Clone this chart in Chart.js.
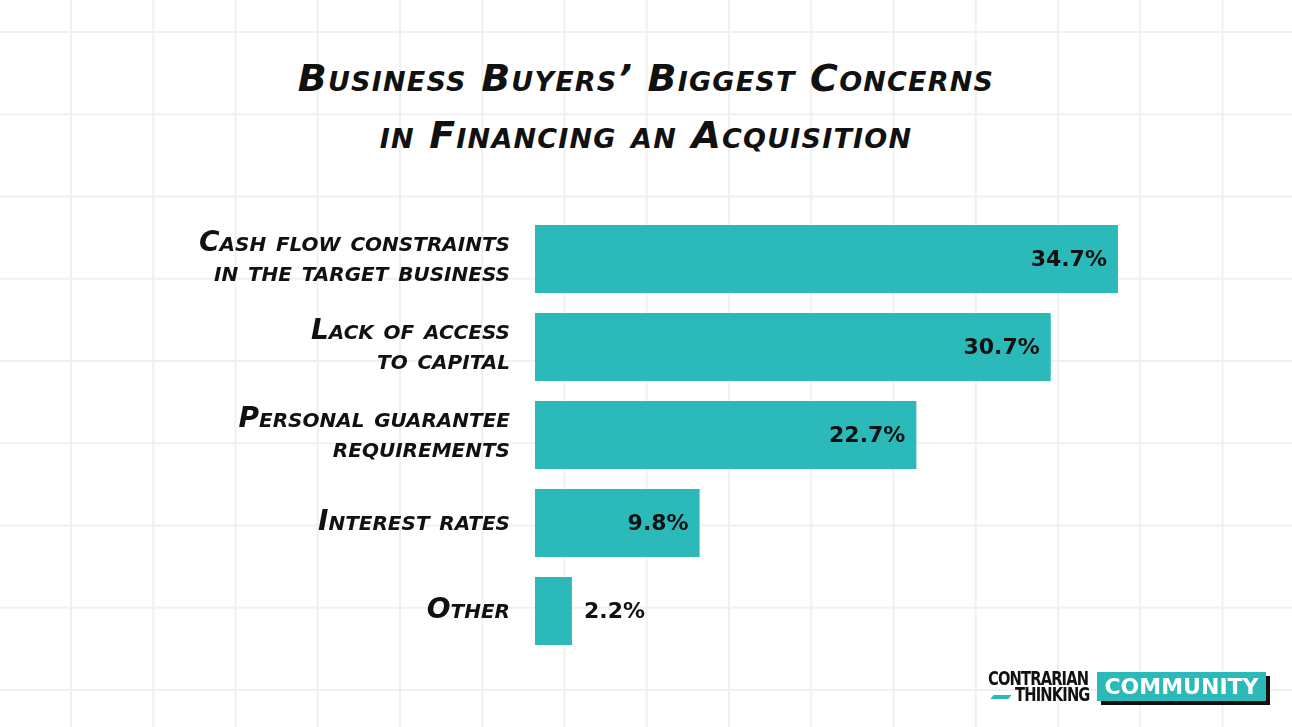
<!DOCTYPE html>
<html>
<head>
<meta charset="utf-8">
<script src="https://cdn.jsdelivr.net/npm/chart.js@4.4.1/dist/chart.umd.min.js"></script>
<style>
  html,body{margin:0;padding:0;}
  body{width:1292px;height:727px;overflow:hidden;position:relative;background-color:#fff;
    background-image:linear-gradient(to right,#f0f0f0 0,#f0f0f0 2px,transparent 2px),
                     linear-gradient(to bottom,#f0f0f0 0,#f0f0f0 2px,transparent 2px);
    background-size:82.25px 82.25px;background-position:70px 31px;}
  #title{position:absolute;left:0;top:50px;width:1292px;text-align:center;
    font-family:"DejaVu Sans",sans-serif;font-style:italic;font-weight:800;font-variant:small-caps;
    font-size:38px;line-height:57px;color:#111;letter-spacing:1.2px;}
  #wrap{position:absolute;left:0;top:0;width:1292px;height:727px;}
  .logo{position:absolute;left:988px;top:669px;font-family:"DejaVu Sans Condensed","DejaVu Sans",sans-serif;font-weight:700;}
  .ct{position:absolute;left:0;top:0;width:102px;height:34px;color:#111;}
  .ct .l1{position:absolute;left:0;top:0;font-size:19px;line-height:18px;letter-spacing:-1px;transform:scaleX(0.86);transform-origin:0 0;}
  .ct .l2{position:absolute;right:0;top:16px;font-size:19px;line-height:18px;letter-spacing:-1px;transform:scaleX(0.86);transform-origin:100% 0;}
  .bolt{position:absolute;left:4px;top:26px;width:18px;height:4px;background:#29b9b9;transform:skewX(-40deg);}
  .comm{position:absolute;left:109px;top:3px;width:169px;height:29px;background:#2bbab9;color:#fff;
    font-family:"DejaVu Sans",sans-serif;font-size:22px;line-height:30px;text-align:center;letter-spacing:0;box-shadow:4px 4px 0 #111;}
</style>
</head>
<body>
<div id="title">Business Buyers’ Biggest Concerns<br>in Financing an Acquisition</div>
<div id="wrap"><canvas id="chart" width="1292" height="727"></canvas></div>
<div class="logo">
  <div class="ct"><div class="l1">CONTRARIAN</div><div class="l2">THINKING</div><span class="bolt"></span></div>
  <div class="comm">COMMUNITY</div>
</div>
<script>
const categories=[
  ['Cash flow constraints','in the target business'],
  ['Lack of access','to capital'],
  ['Personal guarantee','requirements'],
  'Interest rates',
  'Other'
];
const shares=[34.7,30.7,22.7,9.8,2.2];
const barColor='#2bbab9';

const valueLabels={
  id:'valueLabels',
  afterDatasetsDraw(chart){
    const ctx=chart.ctx;
    const meta=chart.getDatasetMeta(0);
    ctx.save();
    ctx.font='800 22px "DejaVu Sans", sans-serif';
    ctx.fillStyle='#111';
    ctx.textBaseline='middle';
    meta.data.forEach((bar,i)=>{
      const txt=shares[i].toFixed(1)+'%';
      const w=bar.x-bar.base;
      if(w>70){ctx.textAlign='right';ctx.fillText(txt,bar.x-11,bar.y+1);}
      else{ctx.textAlign='left';ctx.fillText(txt,bar.x+12,bar.y+1);}
    });
    ctx.restore();
  }
};

new Chart(document.getElementById('chart'),{
  type:'bar',
  data:{labels:categories,datasets:[{data:shares,backgroundColor:barColor,borderWidth:0,
    categoryPercentage:1,barPercentage:68/88}]},
  options:{
    indexAxis:'y',responsive:false,animation:false,
    layout:{padding:{top:215,bottom:72,left:0,right:1}},
    plugins:{legend:{display:false},tooltip:{enabled:false},title:{display:false}},
    scales:{
      x:{min:0,max:45,display:false,grid:{display:false}},
      y:{
        grid:{display:false},border:{display:false},
        afterFit(s){s.width=535;},
        ticks:{color:'#111',padding:17,font:{family:'"DejaVu Sans", sans-serif',style:'italic',weight:'small-caps 800',size:28,lineHeight:1.08}}
      }
    }
  },
  plugins:[valueLabels]
});
</script>
</body>
</html>
